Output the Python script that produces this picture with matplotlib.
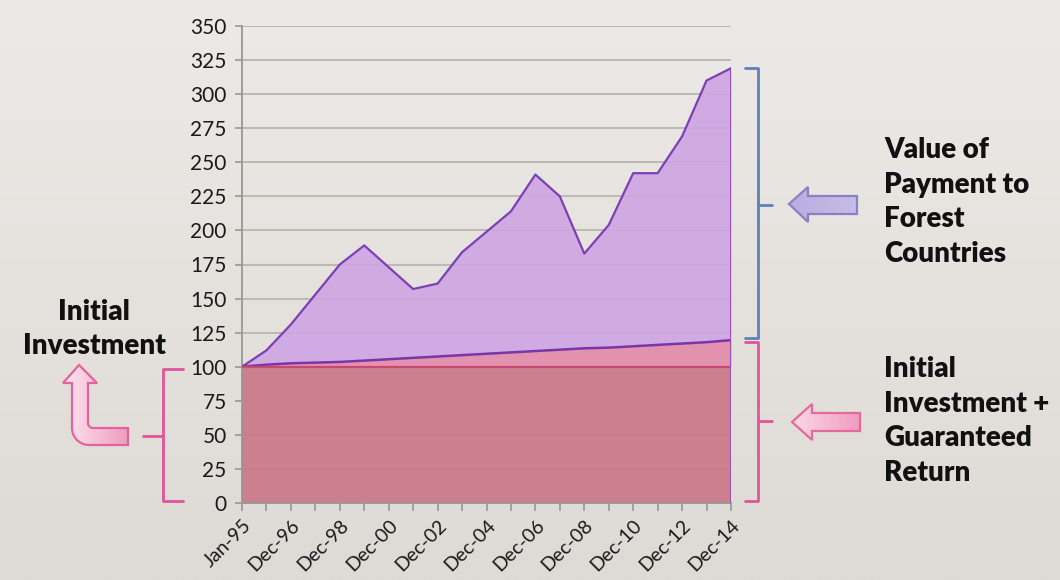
import numpy as np
import matplotlib
matplotlib.use("Agg")
import matplotlib.pyplot as plt
from matplotlib.patches import Polygon

# ---- data ----
periods = ['Jan-95', 'Dec-95', 'Dec-96', 'Dec-97', 'Dec-98', 'Dec-99', 'Dec-00',
           'Dec-01', 'Dec-02', 'Dec-03', 'Dec-04', 'Dec-05', 'Dec-06', 'Dec-07',
           'Dec-08', 'Dec-09', 'Dec-10', 'Dec-11', 'Dec-12', 'Dec-13', 'Dec-14']
payment_value = [100, 112, 131, 153, 175, 189, 173, 157, 161, 184, 199,
                 214, 241, 225, 183, 204, 242, 242, 269, 310, 319]
guaranteed = [100, 101.5, 102.5, 103, 103.5, 104.5, 105.5, 106.5, 107.5, 108.5,
              109.5, 110.5, 111.5, 112.5, 113.5, 114, 115, 116, 117, 118, 119.5]
initial = [100, 100, 100, 100, 100, 100, 100, 100, 100, 100, 100,
           100, 100, 100, 100, 100, 100, 100, 100, 100, 100]
y_ticks = [0, 25, 50, 75, 100, 125, 150, 175, 200, 225, 250, 275, 300, 325, 350]

FONT = ['Lato', 'DejaVu Sans']
plt.rcParams['font.family'] = FONT

W, H = 1060, 580
fig = plt.figure(figsize=(W / 100, H / 100), dpi=100)
fig.patch.set_facecolor('#e4e1dd')

# background gradient
bg = fig.add_axes([0, 0, 1, 1], zorder=-5)
grad = np.linspace(0, 1, 256)[:, None]
top = np.array([236, 234, 231]) / 255
bot = np.array([222, 218, 213]) / 255
img = top[None, None, :] * (1 - grad[:, :, None]) + bot[None, None, :] * grad[:, :, None]
bg.imshow(img, aspect='auto', extent=[0, 1, 0, 1], origin='upper')
bg.set_axis_off()

# ---- main chart ----
ax = fig.add_axes([242 / W, 1 - 503 / H, (731 - 242) / W, (503 - 26) / H], zorder=1)
ax.set_facecolor('none')
x = np.arange(len(periods))

ax.set_axisbelow(True)
ax.yaxis.grid(True, color='#b9b5b1', linewidth=1.3)
ax.fill_between(x, guaranteed, payment_value, color='#cea5e3', alpha=0.9, linewidth=0, zorder=2)
ax.fill_between(x, initial, guaranteed, color='#e28bab', alpha=0.93, linewidth=0, zorder=2)
ax.fill_between(x, 0, initial, color='#cb7a8b', alpha=0.95, linewidth=0, zorder=2)
ax.plot(x, payment_value, color='#7d3fb5', linewidth=1.6, zorder=4)
ax.plot(x, guaranteed, color='#7a35a8', linewidth=1.8, zorder=4)
ax.plot(x, initial, color='#c64a70', linewidth=1.6, zorder=4)
ax.plot([x[-1], x[-1]], [0, payment_value[-1]], color='#9a4fb8', linewidth=1.4, zorder=4)

ax.set_xlim(0, len(periods) - 1)
ax.set_ylim(0, 350)
ax.set_yticks(y_ticks)
ax.set_yticklabels([str(v) for v in y_ticks], fontsize=15, color='#1a1a1a')
ax.set_xticks(x)
ax.set_xticklabels([p if i % 2 == 0 else '' for i, p in enumerate(periods)],
                   rotation=45, ha='right', rotation_mode='anchor',
                   fontsize=14, color='#1a1a1a')
ax.tick_params(axis='y', length=5, width=1.2, color='#9a9692', pad=6)
ax.tick_params(axis='x', length=6, width=1.2, color='#9a9692', pad=4)
for s in ['top', 'right']:
    ax.spines[s].set_visible(False)
for s in ['left', 'bottom']:
    ax.spines[s].set_color('#9a9692')
    ax.spines[s].set_linewidth(1.3)

# ---- overlay annotations (pixel space) ----
ov = fig.add_axes([0, 0, 1, 1], zorder=3)
ov.set_xlim(0, W)
ov.set_ylim(H, 0)
ov.set_axis_off()
ov.patch.set_alpha(0)

BLUE = '#5f80b8'
PINK = '#e0559a'

def right_bracket(x0, x1, y0, y1, ym, xt, color):
    ov.plot([x0, x1, x1, x0], [y0, y0, y1, y1], color=color, lw=2, solid_joinstyle='round',
            solid_capstyle='round')
    ov.plot([x1, xt], [ym, ym], color=color, lw=2, solid_capstyle='round')

right_bracket(745, 758, 68, 338, 205, 772, BLUE)
right_bracket(745, 758, 342, 501, 421, 772, PINK)

# left curly bracket
ov.plot([183, 163, 163, 183], [369, 369, 501, 501], color=PINK, lw=2,
        solid_joinstyle='round', solid_capstyle='round')
ov.plot([143, 163], [436, 436], color=PINK, lw=2, solid_capstyle='round')

def gradient_patch(verts, c_a, c_b, edge):
    poly = Polygon(verts, closed=True, facecolor='none', edgecolor=edge, lw=1.6, zorder=5)
    ov.add_patch(poly)
    xs = [v[0] for v in verts]
    ys = [v[1] for v in verts]
    t = np.linspace(0, 1, 128)
    c1 = np.array(matplotlib.colors.to_rgb(c_a))
    c2 = np.array(matplotlib.colors.to_rgb(c_b))
    g = c1[None, None, :] * (1 - t[None, :, None]) + c2[None, None, :] * t[None, :, None]
    im = ov.imshow(g, extent=[min(xs), max(xs), max(ys), min(ys)], aspect='auto',
                   zorder=4, origin='upper')
    im.set_clip_path(poly)

# blue left arrow
blue_arrow = [(789, 204), (808, 187), (808, 196), (857, 196), (857, 214),
              (808, 214), (808, 222)]
gradient_patch(blue_arrow, '#b9aee0', '#c6bde6', '#8a80c4')

# pink left arrow
pink_arrow = [(792, 422), (812, 404), (812, 413), (860, 413), (860, 431),
              (812, 431), (812, 440)]
gradient_patch(pink_arrow, '#fbd7e7', '#f29cc1', '#e46a9e')

# bent arrow (left)
def arc(cx, cy, r, a0, a1, n=12):
    a = np.radians(np.linspace(a0, a1, n))
    return [(cx + r * np.cos(t), cy + r * np.sin(t)) for t in a]

bent = [(79, 365), (97, 383), (88, 383), (88, 423)]
bent += arc(93, 423, 5, 180, 90)
bent += [(128, 428), (128, 445)]
bent += arc(89, 428, 17, 90, 180)
bent += [(72, 383), (63, 383)]
gradient_patch(bent, '#fde6f0', '#ef9cc0', '#e2639d')

# ---- texts ----
tkw = dict(fontsize=20, fontweight='heavy', color='#111111', family=FONT)
ov.text(94, 329, 'Initial\nInvestment', ha='center', va='center',
        multialignment='center', linespacing=1.35, **tkw)
ov.text(884, 202, 'Value of\nPayment to\nForest\nCountries', ha='left', va='center',
        multialignment='left', linespacing=1.4, **tkw)
ov.text(884, 421, 'Initial\nInvestment +\nGuaranteed\nReturn', ha='left', va='center',
        multialignment='left', linespacing=1.4, **tkw)

fig.savefig('out.png', dpi=100)
